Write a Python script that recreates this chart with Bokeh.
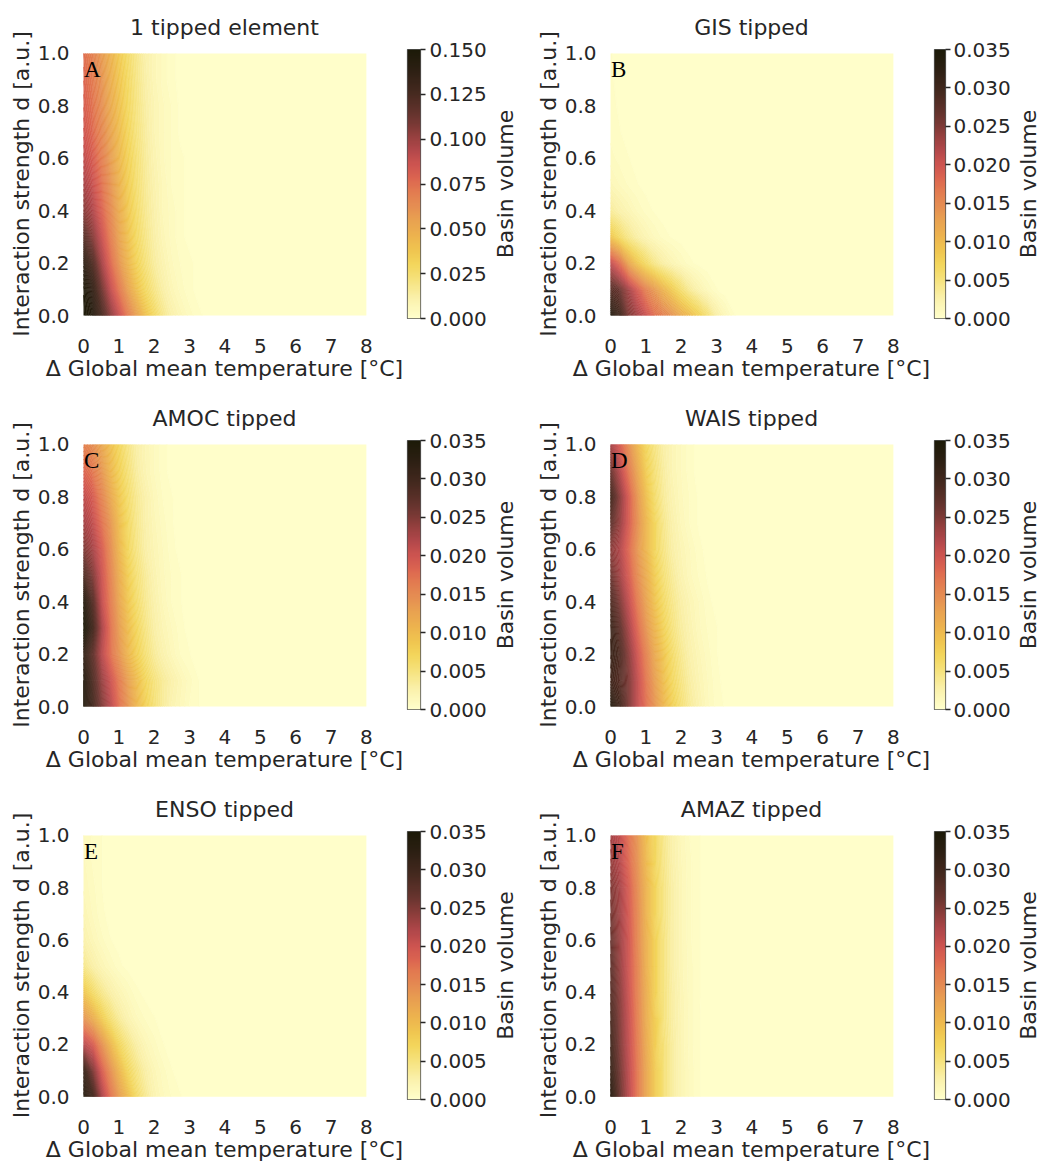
import numpy as np
from bokeh.plotting import figure
from bokeh.models import Range1d, LinearColorMapper, LinearAxis, FixedTicker, PrintfTickFormatter, Label
from bokeh.layouts import column, row
from bokeh.embed import file_html
from bokeh.resources import INLINE

# ---------------- data (basin volume, in units of 1e-3) ----------------
# columns: Delta GMT = 0, 0.25, ..., 3.5 degC  (beyond 3.5 degC the value reads as 0)
temperature = [0.0, 0.25, 0.5, 0.75, 1.0, 1.25, 1.5, 1.75, 2.0, 2.25, 2.5, 2.75, 3.0, 3.25, 3.5]
temperature_step = 0.25
temperature_max = 8.0
# rows: interaction strength d = 0.0, 0.1, ..., 1.0
d_levels = [0.0, 0.1, 0.2, 0.3, 0.4, 0.5, 0.6, 0.7, 0.8, 0.9, 1.0]

basin_one_tipped = [
    [150, 142, 125, 105, 88, 70, 55, 40, 28, 18, 11, 7, 4, 2, 1],
    [148, 135, 112, 90, 72, 55, 40, 28, 19, 12, 7, 4, 2, 1, 0],
    [138, 122, 98, 78, 60, 45, 32, 22, 14, 9, 5, 3, 2, 1, 0],
    [120, 106, 88, 70, 54, 40, 28, 19, 12, 7, 4, 2, 1, 0, 0],
    [105, 95, 80, 65, 50, 37, 26, 17, 11, 6, 4, 2, 1, 0, 0],
    [97, 88, 75, 61, 47, 35, 24, 16, 10, 6, 3, 2, 1, 0, 0],
    [90, 82, 70, 57, 44, 33, 23, 15, 9, 5, 3, 2, 1, 0, 0],
    [85, 77, 66, 54, 42, 31, 21, 14, 8, 5, 3, 1, 1, 0, 0],
    [81, 74, 63, 51, 40, 29, 20, 13, 8, 5, 3, 1, 0, 0, 0],
    [78, 71, 61, 49, 38, 28, 19, 12, 7, 4, 2, 1, 0, 0, 0],
    [75, 68, 58, 47, 36, 26, 18, 11, 7, 4, 2, 1, 0, 0, 0],
]

basin_gis = [
    [33.2, 30.1, 25.2, 22.8, 20.3, 17.5, 15.8, 14.0, 11.6, 9.8, 7.7, 5.3, 2.8, 1.4, 0.4],
    [28.0, 26.3, 22.8, 19.3, 15.8, 13.3, 10.5, 8.1, 5.6, 3.5, 2.1, 1.1, 0.4, 0, 0],
    [21.0, 17.5, 12.3, 8.8, 6.3, 4.2, 2.8, 1.8, 1.1, 0.5, 0.2, 0, 0, 0, 0],
    [8.8, 6.3, 4.2, 2.8, 1.8, 1.1, 0.6, 0.3, 0.1, 0, 0, 0, 0, 0, 0],
    [3.5, 2.5, 1.8, 1.1, 0.6, 0.3, 0.1, 0, 0, 0, 0, 0, 0, 0, 0],
    [1.6, 1.1, 0.7, 0.4, 0.2, 0.1, 0, 0, 0, 0, 0, 0, 0, 0, 0],
    [0.9, 0.6, 0.4, 0.2, 0.1, 0, 0, 0, 0, 0, 0, 0, 0, 0, 0],
    [0.6, 0.4, 0.2, 0.1, 0, 0, 0, 0, 0, 0, 0, 0, 0, 0, 0],
    [0.5, 0.3, 0.2, 0.1, 0, 0, 0, 0, 0, 0, 0, 0, 0, 0, 0],
    [0.4, 0.3, 0.1, 0, 0, 0, 0, 0, 0, 0, 0, 0, 0, 0, 0],
    [0.4, 0.2, 0.1, 0, 0, 0, 0, 0, 0, 0, 0, 0, 0, 0, 0],
]

basin_amoc = [
    [33.2, 29.8, 25.2, 21.7, 17.5, 14.0, 10.5, 7.7, 5.3, 3.5, 2.1, 1.4, 0.7, 0.4, 0],
    [33.2, 28.7, 23.8, 20.3, 16.5, 13.0, 9.8, 7.0, 4.9, 3.5, 2.5, 1.6, 0.9, 0.4, 0],
    [31.5, 27.3, 21.7, 17.5, 14.0, 10.5, 7.7, 5.3, 3.5, 2.3, 1.4, 0.7, 0.4, 0, 0],
    [35.0, 29.8, 22.8, 17.5, 13.3, 9.8, 7.0, 4.6, 2.8, 1.8, 1.1, 0.5, 0.2, 0, 0],
    [33.2, 28.0, 21.0, 16.5, 12.3, 8.8, 6.0, 3.9, 2.5, 1.4, 0.7, 0.4, 0, 0, 0],
    [28.7, 25.2, 20.3, 15.8, 11.6, 8.1, 5.3, 3.5, 2.1, 1.2, 0.7, 0.4, 0, 0, 0],
    [25.2, 22.8, 19.3, 15.0, 10.5, 7.0, 4.6, 2.8, 1.8, 1.1, 0.5, 0.2, 0, 0, 0],
    [22.8, 21.0, 17.5, 14.0, 9.8, 6.7, 4.2, 2.6, 1.6, 0.9, 0.4, 0.2, 0, 0, 0],
    [21.0, 19.3, 15.8, 12.3, 8.8, 6.0, 3.9, 2.5, 1.4, 0.7, 0.4, 0.1, 0, 0, 0],
    [18.2, 16.8, 14.0, 10.5, 7.7, 5.3, 3.2, 1.9, 1.1, 0.5, 0.2, 0, 0, 0, 0],
    [15.8, 14.7, 12.3, 9.5, 7.0, 4.6, 2.8, 1.8, 1.1, 0.5, 0.2, 0, 0, 0, 0],
]

basin_wais = [
    [33.2, 29.8, 25.2, 21.0, 17.5, 14.0, 10.5, 7.7, 5.3, 3.5, 2.3, 1.2, 0.6, 0.3, 0.1],
    [29.8, 28.0, 25.2, 21.0, 16.8, 13.0, 9.5, 6.7, 4.6, 3.0, 1.9, 1.1, 0.5, 0.2, 0],
    [30.8, 28.7, 24.5, 20.0, 15.8, 11.9, 8.8, 6.0, 3.9, 2.5, 1.6, 0.9, 0.4, 0.1, 0],
    [30.5, 27.3, 22.8, 18.2, 14.0, 10.5, 7.4, 4.9, 3.2, 2.1, 1.2, 0.7, 0.4, 0, 0],
    [28.7, 25.2, 21.0, 16.5, 12.6, 9.1, 6.3, 4.2, 2.8, 1.8, 1.1, 0.5, 0.2, 0, 0],
    [26.3, 23.1, 19.3, 15.0, 11.6, 8.1, 5.3, 3.5, 2.1, 1.2, 0.7, 0.3, 0, 0, 0],
    [24.5, 22.1, 18.2, 14.0, 10.5, 7.0, 4.6, 2.8, 1.8, 1.1, 0.5, 0.2, 0, 0, 0],
    [27.3, 23.8, 19.3, 14.7, 10.5, 7.0, 4.2, 2.5, 1.4, 0.7, 0.3, 0.1, 0, 0, 0],
    [29.8, 24.5, 19.3, 14.0, 9.5, 6.0, 3.5, 2.1, 1.2, 0.7, 0.3, 0.1, 0, 0, 0],
    [26.3, 21.7, 16.8, 12.3, 8.1, 5.3, 3.2, 1.8, 1.1, 0.5, 0.2, 0, 0, 0, 0],
    [22.8, 19.3, 14.7, 10.5, 7.0, 4.6, 2.8, 1.8, 1.1, 0.5, 0.2, 0, 0, 0, 0],
]

basin_enso = [
    [33.2, 29.8, 22.8, 17.5, 13.3, 9.8, 6.3, 3.9, 2.1, 1.2, 0.7, 0.4, 0.1, 0, 0],
    [30.8, 25.2, 19.3, 14.7, 10.5, 7.0, 4.6, 2.8, 1.6, 0.9, 0.4, 0.1, 0, 0, 0],
    [21.7, 19.3, 14.7, 10.5, 7.0, 4.6, 2.8, 1.6, 0.9, 0.4, 0.1, 0, 0, 0, 0],
    [14.0, 11.6, 8.4, 5.6, 3.5, 2.1, 1.2, 0.7, 0.4, 0.1, 0, 0, 0, 0, 0],
    [8.8, 6.3, 4.2, 2.8, 1.8, 1.1, 0.5, 0.2, 0, 0, 0, 0, 0, 0, 0],
    [4.2, 2.8, 1.8, 1.1, 0.5, 0.2, 0, 0, 0, 0, 0, 0, 0, 0, 0],
    [2.5, 1.6, 0.9, 0.4, 0.2, 0, 0, 0, 0, 0, 0, 0, 0, 0, 0],
    [1.8, 1.1, 0.5, 0.2, 0, 0, 0, 0, 0, 0, 0, 0, 0, 0, 0],
    [1.4, 0.9, 0.4, 0.1, 0, 0, 0, 0, 0, 0, 0, 0, 0, 0, 0],
    [1.2, 0.7, 0.4, 0.1, 0, 0, 0, 0, 0, 0, 0, 0, 0, 0, 0],
    [1.1, 0.7, 0.4, 0.1, 0, 0, 0, 0, 0, 0, 0, 0, 0, 0, 0],
]

basin_amaz = [
    [32.6, 26.6, 21.7, 16.8, 12.3, 8.4, 5.3, 3.2, 1.8, 1.0, 0.4, 0.2, 0, 0, 0],
    [30.8, 25.9, 21.4, 16.8, 12.3, 8.4, 5.3, 3.2, 1.8, 1.0, 0.4, 0.2, 0, 0, 0],
    [29.8, 25.2, 21.0, 16.5, 11.9, 8.1, 5.3, 3.2, 1.8, 0.9, 0.4, 0.2, 0, 0, 0],
    [29.1, 24.9, 20.7, 16.1, 11.6, 8.1, 4.9, 3.0, 1.8, 0.9, 0.4, 0.2, 0, 0, 0],
    [28.0, 24.5, 20.3, 15.8, 11.6, 7.7, 4.9, 3.0, 1.7, 0.9, 0.4, 0.1, 0, 0, 0],
    [27.3, 23.8, 20.0, 15.8, 11.2, 7.7, 4.9, 2.8, 1.6, 0.9, 0.4, 0.1, 0, 0, 0],
    [26.6, 23.5, 20.0, 15.4, 11.2, 7.7, 4.9, 2.8, 1.6, 0.8, 0.4, 0.1, 0, 0, 0],
    [25.9, 23.1, 19.6, 15.4, 10.9, 7.4, 4.6, 2.8, 1.6, 0.8, 0.4, 0.1, 0, 0, 0],
    [25.2, 22.8, 19.3, 15.0, 10.9, 7.4, 4.6, 2.8, 1.6, 0.8, 0.4, 0.1, 0, 0, 0],
    [23.8, 21.7, 18.2, 14.4, 10.2, 7.0, 4.4, 2.6, 1.5, 0.8, 0.4, 0.1, 0, 0, 0],
    [22.8, 21.0, 17.5, 14.0, 9.8, 7.0, 4.2, 2.5, 1.4, 0.7, 0.4, 0.1, 0, 0, 0],
]

titles = ["1 tipped element", "GIS tipped", "AMOC tipped", "WAIS tipped", "ENSO tipped", "AMAZ tipped"]
letters = ["A", "B", "C", "D", "E", "F"]
vmax_list = [0.150, 0.035, 0.035, 0.035, 0.035, 0.035]
cbar_ticks_1 = [0.0, 0.025, 0.05, 0.075, 0.1, 0.125, 0.15]
cbar_ticks_2 = [0.0, 0.005, 0.01, 0.015, 0.02, 0.025, 0.03, 0.035]
x_ticks = [0, 1, 2, 3, 4, 5, 6, 7, 8]
y_ticks = [0.0, 0.2, 0.4, 0.6, 0.8, 1.0]
datasets = [basin_one_tipped, basin_gis, basin_amoc, basin_wais, basin_enso, basin_amaz]

# ---------------- colour map (light yellow -> orange -> red -> near black) ----------------
stops = [(0.0, "#FFFFCC"), (0.08, "#FAF0A8"), (0.14, "#F6E37E"), (0.20, "#F3D65C"),
         (0.25, "#F0C650"), (0.30, "#EDB54E"), (0.36, "#E9A350"), (0.42, "#E58D52"),
         (0.48, "#E27850"), (0.52, "#DC6550"), (0.57, "#CE5550"), (0.63, "#B0474A"),
         (0.69, "#8E3E3C"), (0.75, "#6A3530"), (0.835, "#472A20"), (0.92, "#2E2014"),
         (1.0, "#1C1A08")]


def colour_at(t):
    pos = [s[0] for s in stops]
    rgb = np.array([[int(c[i:i + 2], 16) for i in (1, 3, 5)] for _, c in stops], dtype=float)
    t = np.clip(np.asarray(t, dtype=float), 0, 1)
    chans = [np.interp(t, pos, rgb[:, k]) for k in range(3)]
    return ["#%02x%02x%02x" % (int(round(r)), int(round(g)), int(round(b))) for r, g, b in zip(*chans)]


palette = colour_at(np.linspace(0, 1, 256))

TXT = "#262626"
FONT = "DejaVu Sans"
ROW_H = [391, 391, 382]
MAIN_W = 404
CBAR_W = [85, 82]
CBAR_STANDOFF = [4, 3]
LABEL_W = [38, 27]
LABEL_BL = [27, 25]
FRAME_TOP = 49
FRAME_H = 269
CBAR_TOP = 39
CBAR_FRAME_H = 288
N_LEVELS = 96


def make_panel(idx):
    r, c = divmod(idx, 2)
    fig_h = ROW_H[r]
    vmax = vmax_list[idx]
    mapper = LinearColorMapper(palette=palette, low=0.0, high=vmax)

    # full temperature axis 0..8; columns beyond 3.5 degC read as 0
    n_total = int(round(temperature_max / temperature_step)) + 1
    xs = np.array(temperature + [temperature[-1] + temperature_step * (k + 1)
                                 for k in range(n_total - len(temperature))])
    ys = np.array(d_levels)
    z = np.zeros((len(d_levels), n_total))
    z[:, :len(temperature)] = np.array(datasets[idx], dtype=float) / 1000.0

    p = figure(width=MAIN_W, height=fig_h,
               x_range=Range1d(-0.085, 8.06), y_range=Range1d(-0.011, 1.015),
               output_backend="svg", toolbar_location=None,
               min_border_left=80, min_border_right=MAIN_W - 80 - 288, min_border_top=FRAME_TOP,
               min_border_bottom=fig_h - FRAME_TOP - FRAME_H, title=titles[idx])
    p.outline_line_color = None
    p.grid.visible = False
    p.background_fill_color = "white"
    p.border_fill_color = "white"

    levels = np.linspace(0, vmax, N_LEVELS + 1)
    levels[0] = -1e-6 * vmax
    levels[-1] = vmax * 1.0001
    mids = (levels[:-1] + levels[1:]) / 2 / vmax
    fill_cols = colour_at(mids)
    line_cols = colour_at(levels / vmax)
    p.contour(x=xs, y=ys, z=z, levels=list(levels), fill_color=fill_cols,
              line_color=line_cols, line_width=0.8)

    p.title.text_font = FONT
    p.title.text_font_size = "22px"
    p.title.text_font_style = "normal"
    p.title.text_color = TXT
    p.title.align = "center"
    p.title.standoff = 19

    for ax in (p.xaxis[0], p.yaxis[0]):
        ax.axis_line_color = None
        ax.major_tick_line_color = None
        ax.minor_tick_line_color = None
        ax.major_tick_out = 0
        ax.major_tick_in = 0
        ax.minor_tick_out = 0
        ax.minor_tick_in = 0
        ax.major_label_text_font = FONT
        ax.major_label_text_font_size = "20px"
        ax.major_label_text_color = TXT
        ax.axis_label_text_font = FONT
        ax.axis_label_text_font_size = "22px"
        ax.axis_label_text_font_style = "normal"
        ax.axis_label_text_color = TXT

    p.xaxis.ticker = FixedTicker(ticks=x_ticks)
    p.yaxis.ticker = FixedTicker(ticks=y_ticks)
    p.yaxis.formatter = PrintfTickFormatter(format="%.1f")
    p.xaxis.axis_label = "\u0394 Global mean temperature [\u00b0C]"
    p.yaxis.axis_label = "Interaction strength d [a.u.]"
    p.yaxis.major_label_standoff = 11
    p.yaxis.axis_label_standoff = 1
    p.xaxis.major_label_standoff = 20
    p.xaxis.axis_label_standoff = 0

    p.add_layout(Label(x=0.015, y=0.94, text=letters[idx], text_font="Liberation Serif",
                       text_font_size="23px", text_color="black",
                       text_align="left", text_baseline="alphabetic"))

    # ----- colour bar as its own small figure -----
    cw = CBAR_W[c]
    cb = figure(width=cw, height=fig_h, x_range=Range1d(0, 1), y_range=Range1d(0, vmax),
                output_backend="svg", toolbar_location=None,
                x_axis_location=None, y_axis_location=None,
                min_border_left=3, min_border_right=cw - 3 - 15, min_border_top=CBAR_TOP,
                min_border_bottom=fig_h - CBAR_TOP - CBAR_FRAME_H)
    cb.grid.visible = False
    cb.background_fill_color = "white"
    cb.border_fill_color = "white"
    grad = np.linspace(0, vmax, 256).reshape(256, 1)
    cb.image(image=[grad], x=0, y=0, dw=1, dh=vmax, color_mapper=mapper)
    cb.outline_line_color = "#555555"
    cb.outline_line_width = 1.2
    ticks = cbar_ticks_1 if idx == 0 else cbar_ticks_2
    ax = LinearAxis(ticker=FixedTicker(ticks=ticks), formatter=PrintfTickFormatter(format="%.3f"))
    ax.axis_line_color = None
    ax.major_tick_out = 5
    ax.major_tick_in = 0
    ax.major_tick_line_color = TXT
    ax.major_tick_line_width = 1.3
    ax.minor_tick_line_color = None
    ax.major_label_standoff = CBAR_STANDOFF[c]
    ax.major_label_text_font = FONT
    ax.major_label_text_font_size = "20px"
    ax.major_label_text_color = TXT
    cb.add_layout(ax, "right")

    # ----- "Basin volume" label: left-axis label of a slim figure -----
    lw = LABEL_W[c]
    lb = LABEL_BL[c]
    lf = figure(width=lw, height=fig_h, x_range=Range1d(0, 1), y_range=Range1d(0, vmax),
                output_backend="svg", toolbar_location=None,
                x_axis_location=None, y_axis_location="left",
                min_border_left=lb, min_border_right=max(lw - lb - 2, 0), min_border_top=CBAR_TOP,
                min_border_bottom=fig_h - CBAR_TOP - CBAR_FRAME_H)
    lf.outline_line_color = None
    lf.grid.visible = False
    lf.background_fill_color = "white"
    lf.border_fill_color = "white"
    ya = lf.yaxis[0]
    ya.ticker = FixedTicker(ticks=[])
    ya.axis_line_color = None
    ya.major_tick_line_color = None
    ya.minor_tick_line_color = None
    ya.major_tick_out = 0
    ya.minor_tick_out = 0
    ya.major_label_standoff = 0
    ya.axis_label = "Basin volume"
    ya.axis_label_standoff = 0
    ya.axis_label_text_font = FONT
    ya.axis_label_text_font_size = "22px"
    ya.axis_label_text_font_style = "normal"
    ya.axis_label_text_color = TXT
    return [p, cb, lf]


rows = []
for r in range(3):
    kids = []
    for c in range(2):
        kids += make_panel(2 * r + c)
    rows.append(row(*kids, spacing=0))

layout = column(*rows, spacing=0)

with open("out.html", "w") as f:
    f.write(file_html(layout, INLINE))
